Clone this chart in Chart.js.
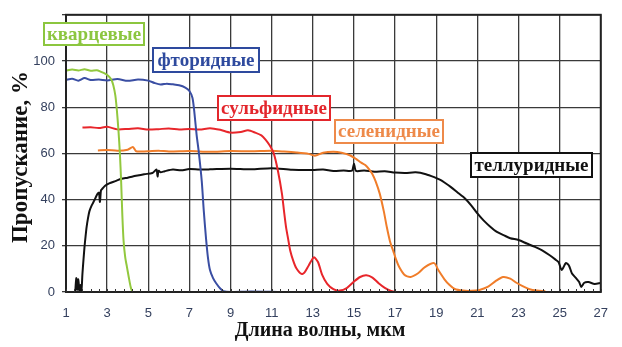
<!DOCTYPE html>
<html>
<head>
<meta charset="utf-8">
<script src="https://cdn.jsdelivr.net/npm/chart.js@4/dist/chart.umd.min.js"></script>
<style>
  html, body { margin: 0; padding: 0; background: #fff; }
  #wrap { width: 622px; height: 347px; }
</style>
</head>
<body>
<div id="wrap"><canvas id="c" width="622" height="347"></canvas></div>
<script>
// Transmission spectra of glass families: wavelength (µm) vs transmission (%)
const seriesNames = ['кварцевые', 'фторидные', 'сульфидные', 'селенидные', 'теллуридные'];
const seriesColors = ['#92c83e', '#3a4ea3', '#e8262b', '#f07d2a', '#111111'];
const labelColors  = ['#8cc63f', '#2e4a9e', '#e3262c', '#ee8a4a', '#111111'];

const quartzX = [1.0,1.3,1.6,1.9,2.2,2.5,2.7,2.9,3.05,3.2,3.3,3.4,3.47,3.55,3.62,3.68,3.74,3.8,3.88,3.96,4.05,4.15,4.25,5.4];
const quartzY = [95.8,96.3,95.9,96.4,95.8,96.0,95.3,94.5,93.6,92.0,89.5,85.0,79.0,70.0,60.0,48.0,33.0,22.0,15.0,11.0,6.5,2.0,0,0];

const fluorideX = [1.0,1.3,1.6,1.9,2.2,2.6,3.0,3.5,4.0,4.5,5.0,5.3,5.6,5.9,6.2,6.5,6.8,7.0,7.15,7.25,7.35,7.45,7.6,7.7,7.8,7.9,8.0,8.15,8.3,8.5,8.65,9.0,10.0,11.3];
const fluorideY = [91.8,92.3,91.5,92.6,91.8,92.0,91.6,92.2,91.4,92.0,91.5,90.5,89.8,90.2,89.9,89.5,88.5,87.0,84.0,77.0,68.0,61.0,48.0,35.0,24.0,15.0,9.5,6.0,3.8,1.5,0.4,0,0.2,0];

const sulfideX = [1.8,2.2,2.6,3.0,3.5,4.0,4.5,5.0,5.5,6.0,6.5,7.0,7.5,8.0,8.5,9.0,9.5,9.85,10.2,10.5,10.7,10.9,11.1,11.3,11.5,11.6,11.7,11.8,11.9,12.05,12.2,12.45,12.6,12.8,13.05,13.25,13.45,13.7,14.0,14.3,14.65,15.0,15.3,15.6,15.9,16.2,16.5,16.8,17.0];
const sulfideY = [71.2,71.3,71.0,71.5,70.4,70.6,70.9,70.3,70.5,70.8,70.4,70.6,70.3,70.9,70.2,69.0,69.3,70.0,69.0,67.8,66.0,63.5,60.0,52.6,42.5,35.0,28.0,23.0,18.0,13.5,10.3,7.8,8.5,11.5,15.0,13.0,7.5,3.5,1.2,0.6,1.7,4.5,6.5,7.2,6.2,3.8,1.8,0.5,0];

const selenideX = [2.55,3.0,3.5,4.0,4.25,4.4,4.6,5.0,5.5,6.0,7.0,8.0,9.0,10.0,11.0,11.6,12.2,12.8,13.1,13.5,14.0,14.4,14.8,15.1,15.35,15.55,15.75,15.9,16.05,16.25,16.45,16.6,16.75,16.9,17.05,17.2,17.45,17.75,18.1,18.45,18.9,19.1,19.4,19.65,19.9,20.3,20.7,21.1,21.5,21.9,22.25,22.6,22.9,23.2,23.5,23.9,24.3];
const selenideY = [61.3,61.5,61.2,61.6,62.8,61.0,60.8,60.9,61.2,60.8,61.0,60.7,61.0,60.9,61.1,60.8,60.4,59.8,59.0,60.3,60.7,60.3,59.2,57.6,56.0,55.0,53.0,51.0,48.0,42.7,35.0,28.0,22.0,18.0,14.0,10.8,7.5,6.5,8.0,10.8,12.5,9.5,5.5,3.0,1.3,0.6,0.5,0.9,2.2,4.8,6.5,5.8,4.0,2.5,1.3,0.6,0.4];

const tellurideX = [1.45,1.5,1.55,1.6,1.65,1.7,1.75,1.8,1.85,1.9,1.95,2.0,2.07,2.14,2.25,2.38,2.5,2.6,2.65,2.7,2.75,2.9,3.1,3.4,3.7,4.0,4.4,4.8,5.2,5.4,5.45,5.5,5.6,5.8,6.2,6.6,7.0,7.5,8.0,9.0,10.0,11.0,12.0,13.0,13.5,14.0,14.5,14.9,15.0,15.1,15.5,16.0,16.5,17.0,17.5,18.0,18.5,18.9,19.2,19.4,19.7,20.05,20.4,20.7,21.0,21.3,21.6,21.95,22.3,22.6,23.0,23.4,23.8,24.15,24.5,24.8,24.95,25.1,25.3,25.45,25.6,25.8,25.95,26.05,26.2,26.4,26.7,27.0];
const tellurideY = [0,6.0,1.0,5.5,0.5,3.0,0.5,8.0,14.0,19.5,24.0,28.0,32.0,35.0,37.5,39.7,42.0,43.0,39.0,44.0,44.5,46.0,47.0,48.0,49.0,49.5,50.3,51.0,51.5,53.0,50.0,52.5,51.8,52.3,53.0,52.7,53.2,53.0,53.1,53.4,53.1,53.6,52.9,52.8,53.0,52.4,52.6,52.5,55.5,52.4,52.6,52.1,52.3,51.7,51.5,51.8,51.0,49.7,48.5,47.4,45.5,43.0,40.5,37.5,34.0,31.0,28.5,26.0,24.5,23.3,22.5,21.0,19.5,18.0,16.0,14.0,12.9,9.5,12.5,11.5,8.0,6.0,4.3,2.2,4.0,4.3,3.5,3.9];

const xTickValues = [1,3,5,7,9,11,13,15,17,19,21,23,25,27];
const yTickValues = [0,20,40,60,80,100];

const seriesX = [quartzX, fluorideX, sulfideX, selenideX, tellurideX];
const seriesY = [quartzY, fluorideY, sulfideY, selenideY, tellurideY];

const datasets = seriesNames.map((name, i) => ({
  label: name,
  data: seriesX[i].map((x, k) => ({ x: x, y: seriesY[i][k] })),
  borderColor: seriesColors[i],
  borderWidth: 2,
  pointRadius: 0,
  showLine: true,
  tension: 0.25,
  fill: false
}));

// Boxed series captions, frame of the plot, minor ticks and axis titles
const decorations = {
  id: 'decorations',
  afterDatasetsDraw(chart) {
    const ctx = chart.ctx;
    const a = chart.chartArea;
    const xs = chart.scales.x;
    ctx.save();
    // frame
    ctx.strokeStyle = '#222';
    ctx.lineWidth = 2;
    ctx.strokeRect(a.left, a.top, a.right - a.left, a.bottom - a.top);
    // minor ticks along the wavelength axis
    ctx.lineWidth = 1;
    ctx.strokeStyle = '#333';
    for (let v = 1; v <= 27.001; v += 0.4) {
      const px = Math.round(xs.getPixelForValue(v)) + 0.5;
      ctx.beginPath();
      ctx.moveTo(px, a.bottom);
      ctx.lineTo(px, a.bottom - 3);
      ctx.stroke();
    }
    // captions
    const boxes = [
      [44, 23, 100, 22],
      [153, 48, 106, 24],
      [218, 96, 112, 24],
      [335, 120, 108, 23],
      [471, 153, 121, 24]
    ];
    ctx.font = 'bold 19px "Liberation Serif", "Times New Roman", serif';
    ctx.textAlign = 'center';
    ctx.textBaseline = 'middle';
    boxes.forEach((b, i) => {
      ctx.fillStyle = '#fff';
      ctx.fillRect(b[0], b[1], b[2], b[3]);
      ctx.strokeStyle = labelColors[i];
      ctx.lineWidth = 2;
      ctx.strokeRect(b[0], b[1], b[2], b[3]);
      ctx.fillStyle = labelColors[i];
      ctx.fillText(seriesNames[i], b[0] + b[2] / 2, b[1] + b[3] / 2 + 1);
    });
    // axis titles
    ctx.fillStyle = '#111';
    ctx.font = 'bold 20px "Liberation Serif", "Times New Roman", serif';
    ctx.fillText('Длина волны, мкм', 320, 331);
    ctx.font = 'bold 23px "Liberation Serif", "Times New Roman", serif';
    ctx.translate(21, 157);
    ctx.rotate(-Math.PI / 2);
    ctx.fillText('Пропускание, %', 0, 0);
    ctx.restore();
  }
};

new Chart(document.getElementById('c'), {
  type: 'scatter',
  data: { datasets: datasets },
  options: {
    responsive: false,
    animation: false,
    devicePixelRatio: 1,
    layout: { padding: { top: 13, right: 9, left: 0, bottom: 0 } },
    plugins: { legend: { display: false }, tooltip: { enabled: false } },
    scales: {
      x: {
        type: 'linear',
        min: 1, max: 27,
        afterBuildTicks(scale) { scale.ticks = xTickValues.map(v => ({ value: v })); },
        afterFit(scale) { scale.height = 55; },
        grid: { color: '#3a3a3a', lineWidth: 1.3, drawTicks: false },
        border: { display: false },
        ticks: {
          padding: 14,
          color: '#34405e',
          font: { family: '"Liberation Sans", Arial, sans-serif', size: 13 },
          maxRotation: 0, autoSkip: false
        }
      },
      y: {
        min: 0, max: 120,
        afterBuildTicks(scale) { scale.ticks = yTickValues.concat([120]).map(v => ({ value: v })); },
        afterFit(scale) { scale.width = 66; },
        grid: { color: '#3a3a3a', lineWidth: 1.3, tickLength: 4 },
        border: { display: false },
        ticks: {
          padding: 7,
          color: '#34405e',
          font: { family: '"Liberation Sans", Arial, sans-serif', size: 13 },
          callback: v => (yTickValues.includes(v) ? String(v) : '')
        }
      }
    }
  },
  plugins: [decorations]
});
</script>
</body>
</html>
